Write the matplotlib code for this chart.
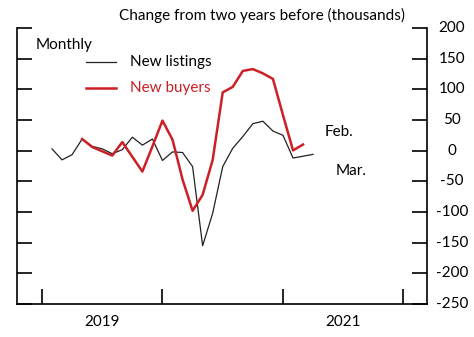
import matplotlib
matplotlib.use("Agg")
import matplotlib.pyplot as plt
import numpy as np

# Monthly change from two years before (thousands), Jan 2019 onward
listings = [3, -15, -6.5, 19, 7, 3, -5, 1.6, 22, 9, 19, -16, -2, -3, -26,
            -155, -102, -26, 4, 23, 44, 48, 32, 25, -12, -9, -6]
# New buyers start in Apr 2019 and end in Feb 2021
buyers_start = 3
buyers = [19, 6, -1, -8, 14, -10, -34, 7, 49, 18, -47, -98, -72, -15,
          95, 104, 130, 133, 126, 117, 58, 0.5, 10]

year_ticks = [2019, 2020, 2021, 2022]
year_labels = ["2019", "2021"]
y_ticks = [200, 150, 100, 50, 0, -50, -100, -150, -200, -250]

plt.rcParams['font.family'] = ['Lato', 'DejaVu Sans']

def month_pos(i):
    # each month is plotted at its end
    return 2019 + (i + 1) / 12.0

x_list = [month_pos(i) for i in range(len(listings))]
x_buy = [month_pos(buyers_start + i) for i in range(len(buyers))]

fig = plt.figure(figsize=(4.74, 3.37), dpi=100)
ax = fig.add_axes([17/474, 1 - 304/337, (427 - 17)/474, (304 - 28)/337])

red = '#cc1f26'
ax.plot(x_list, listings, color='#222222', lw=0.9)
ax.plot(x_buy, buyers, color=red, lw=1.8)

ax.set_xlim(2018.793, 2022.195)
ax.set_ylim(-250, 200)

ax.spines['top'].set_visible(False)
for s in ['left', 'right', 'bottom']:
    ax.spines[s].set_linewidth(1.2)

ax.set_yticks(y_ticks)
ax.tick_params(axis='y', left=True, right=True, labelleft=False, labelright=False,
               direction='in', length=11, width=1.2)
# value labels on the right, centred in a column
ytr = ax.get_yaxis_transform()
for v in y_ticks:
    ax.text((452 - 17) / 410, v, str(v), transform=ytr, ha='center', va='center',
            fontsize=11, clip_on=False)

ax.set_xticks(year_ticks)
ax.set_xticklabels([])
ax.tick_params(axis='x', direction='in', length=11, width=1.2)
ax.set_xticks([2019.5, 2021.5], minor=True)
ax.set_xticklabels(year_labels, minor=True)
ax.tick_params(axis='x', which='minor', length=0, labelsize=11, pad=8)

fig.text(262/474, 1 - 15/337, "Change from two years before (thousands)",
         ha='center', va='center', fontsize=11)
fig.text(36/474, 1 - 45/337, "Monthly", ha='left', va='center', fontsize=11)

# legend
lx0, lx1, tx = 86/474, 116/474, 130/474
fig.add_artist(plt.Line2D([lx0, lx1], [1 - 62/337] * 2, color='#222222', lw=0.9))
fig.text(tx, 1 - 62/337, "New listings", ha='left', va='center', fontsize=11)
fig.add_artist(plt.Line2D([lx0, lx1], [1 - 88/337] * 2, color=red, lw=1.8))
fig.text(tx, 1 - 88/337, "New buyers", ha='left', va='center', fontsize=11, color=red)

fig.text(325/474, 1 - 132/337, "Feb.", ha='left', va='center', fontsize=11)
fig.text(336/474, 1 - 171/337, "Mar.", ha='left', va='center', fontsize=11)

fig.savefig("out.png", dpi=100)
